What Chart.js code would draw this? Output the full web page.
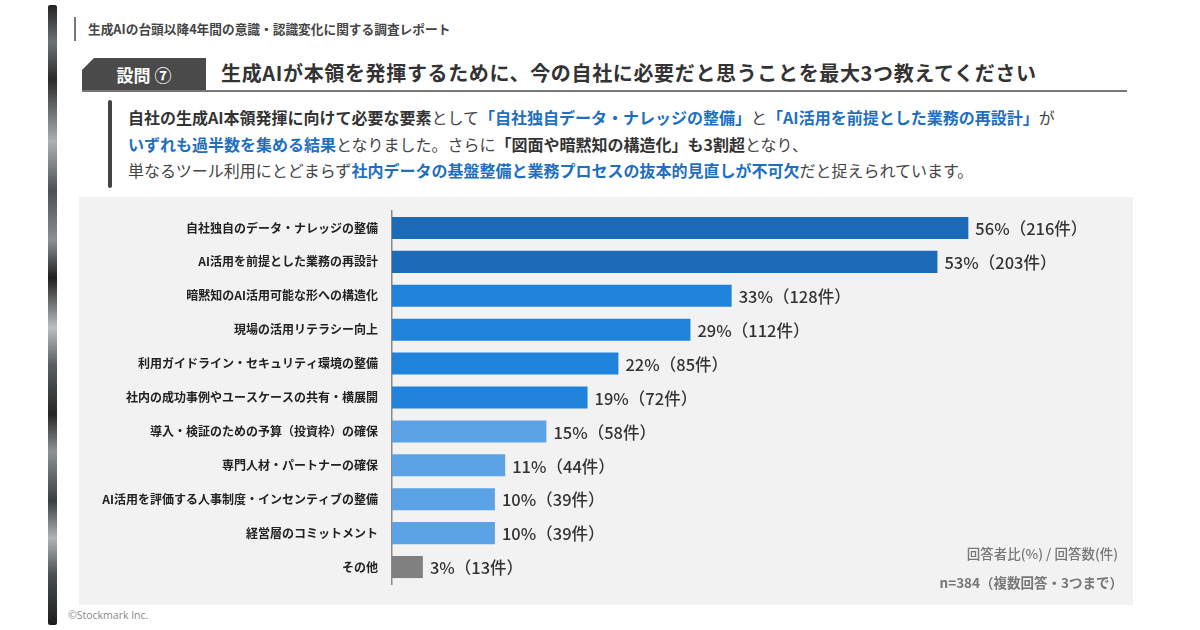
<!DOCTYPE html>
<html lang="ja">
<head>
<meta charset="utf-8">
<script src="https://cdn.jsdelivr.net/npm/chart.js@4.4.1/dist/chart.umd.min.js"></script>
<style>
  html, body { margin: 0; padding: 0; }
  body { width: 1200px; height: 630px; position: relative; background: #fff; overflow: hidden;
         font-family: "Noto Sans CJK JP", "Noto Sans", sans-serif; color: #333; }
  .abs { position: absolute; }
  #strip { left: 48px; top: 5px; width: 9px; height: 620px; border-radius: 2px;
           background: linear-gradient(to bottom, #222 0%, #6d7378 6%, #2a2a2a 12%, #aab0b4 22%, #4b5156 30%,
             #8a9095 38%, #1e1e1e 44%, #babfc2 52%, #5a6065 58%, #262626 66%, #8d9296 72%, #3a3f43 80%,
             #b0b4b7 86%, #4a4f53 92%, #1c1c1c 100%); }
  #topbar { left: 74px; top: 17px; width: 2px; height: 24px; background: #777; }
  #subtitle { left: 88px; top: 19px; font-size: 12.7px; font-weight: 700; color: #444; }
  #qbox { left: 82px; top: 58px; width: 124px; height: 33px; background: #4a4a4a; color: #fff;
          font-size: 17px; font-weight: 700; line-height: 33px; text-align: center;
          clip-path: polygon(12px 0, 100% 0, 100% 100%, 0 100%, 0 12px); }
  #qtitle { left: 221px; top: 58px; font-size: 20px; font-weight: 700; color: #333; line-height: 30px; letter-spacing: 0.65px; }
  #rule { left: 82px; top: 90px; width: 1045px; height: 1.5px; background: #777; }
  #qbar { left: 108px; top: 100px; width: 4px; height: 88px; background: #444; border-radius: 2px; }
  #lead { left: 128px; top: 104px; font-size: 16px; line-height: 26.5px; color: #444; white-space: nowrap; }
  #lead b { font-weight: 700; color: #333; }
  #lead .hl { font-weight: 700; color: #1e6fc0; }
  #panel { left: 79px; top: 197px; width: 1054px; height: 408px; background: #f2f2f2; }
  #note1 { right: 82px; top: 543px; font-size: 13.5px; color: #777; font-weight: 500; }
  #note2 { right: 77px; top: 572px; font-size: 13.5px; color: #777; font-weight: 700; }
  #copy { left: 68px; top: 608px; font-size: 10.5px; color: #888; font-family: "Open Sans", sans-serif; }
</style>
</head>
<body>
<div id="strip" class="abs"></div>
<div id="topbar" class="abs"></div>
<div id="subtitle" class="abs">生成AIの台頭以降4年間の意識・認識変化に関する調査レポート</div>
<div id="qbox" class="abs">設問 ⑦</div>
<div id="qtitle" class="abs">生成AIが本領を発揮するために、今の自社に必要だと思うことを最大3つ教えてください</div>
<div id="rule" class="abs"></div>
<div id="qbar" class="abs"></div>
<div id="lead" class="abs">
  <b>自社の生成AI本領発揮に向けて必要な要素</b>として<span class="hl">「自社独自データ・ナレッジの整備」</span>と<span class="hl">「AI活用を前提とした業務の再設計」</span>が<br>
  <span class="hl">いずれも過半数を集める結果</span>となりました。さらに<b>「図面や暗黙知の構造化」も3割超</b>となり、<br>
  単なるツール利用にとどまらず<span class="hl">社内データの基盤整備と業務プロセスの抜本的見直しが不可欠</span>だと捉えられています。
</div>
<div id="panel" class="abs"><canvas id="chart" width="1054" height="408"></canvas></div>
<div id="note1" class="abs">回答者比(%) / 回答数(件)</div>
<div id="note2" class="abs">n=384（複数回答・3つまで）</div>
<div id="copy" class="abs">©Stockmark Inc.</div>

<script>
const categories = [
    '自社独自のデータ・ナレッジの整備',
    'AI活用を前提とした業務の再設計',
    '暗黙知のAI活用可能な形への構造化',
    '現場の活用リテラシー向上',
    '利用ガイドライン・セキュリティ環境の整備',
    '社内の成功事例やユースケースの共有・横展開',
    '導入・検証のための予算（投資枠）の確保',
    '専門人材・パートナーの確保',
    'AI活用を評価する人事制度・インセンティブの整備',
    '経営層のコミットメント',
    'その他'
]
const percents = [56, 53, 33, 29, 22, 19, 15, 11, 10, 10, 3]
const counts = [216, 203, 128, 112, 85, 72, 58, 44, 39, 39, 13]

const barColor = (i) => {
    if (categories[i] === 'その他') return '#808080'
    if (percents[i] >= 50) return '#1c6bb8'
    if (percents[i] >= 18) return '#1f83dc'
    return '#5ba3e6'
}

const valueLabels = {
    id: 'valueLabels',
    afterDatasetsDraw: (chart) => {
        const ctx = chart.ctx
        const meta = chart.getDatasetMeta(0)
        ctx.save()
        ctx.font = '500 16.5px "Noto Sans CJK JP", sans-serif'
        ctx.fillStyle = '#333'
        ctx.textBaseline = 'middle'
        meta.data.forEach((bar, i) => {
            ctx.fillText(percents[i] + '%（' + counts[i] + '件）', bar.x + 7, bar.y + 1)
        })
        ctx.restore()
    }
}

const chart = new Chart(document.getElementById('chart'), {
    type: 'bar',
    data: {
        labels: categories,
        datasets: [{
            data: percents,
            backgroundColor: categories.map((c, i) => barColor(i)),
            barPercentage: 0.65,
            categoryPercentage: 1
        }]
    },
    plugins: [valueLabels],
    options: {
        indexAxis: 'y',
        responsive: false,
        animation: false,
        layout: { padding: { top: 14, bottom: 21, left: 0, right: 0 } },
        plugins: {
            legend: { display: false },
            tooltip: { enabled: false }
        },
        scales: {
            x: {
                display: false,
                min: 0,
                max: 72
            },
            y: {
                // fixed label column, no extra padding from the tick labels
                afterFit: (scale) => {
                    scale.width = 313
                    scale.paddingTop = 0
                    scale.paddingBottom = 0
                },
                grid: { display: false, drawTicks: false },
                border: { display: true, color: '#888', width: 1.5 },
                ticks: {
                    padding: 14,
                    color: '#222',
                    font: { family: '"Noto Sans CJK JP", sans-serif', size: 12, weight: 'bold' }
                }
            }
        }
    }
})
</script>
</body>
</html>
